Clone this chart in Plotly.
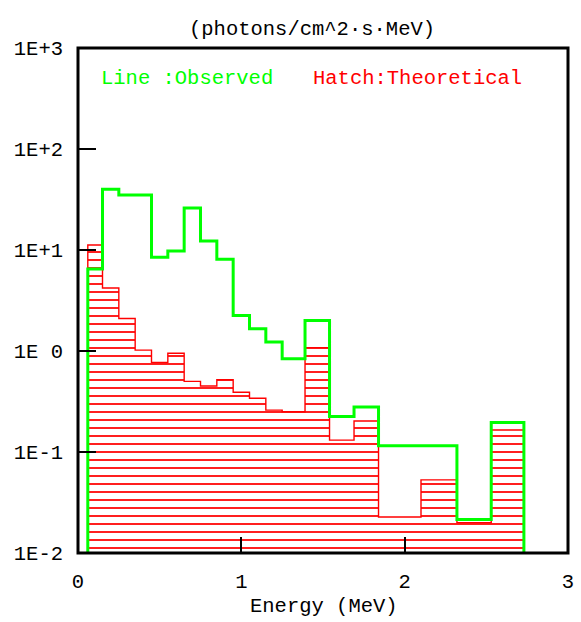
import plotly.graph_objects as go

# Bin edges (MeV) shared by both series
edges = [0.06, 0.15, 0.25, 0.35, 0.45, 0.55, 0.65, 0.75, 0.85, 0.95, 1.05,
         1.15, 1.25, 1.39, 1.54, 1.69, 1.84, 2.10, 2.32, 2.53, 2.73]
# Observed flux per bin (photons/cm^2 s MeV)
observed = [6.5, 40, 35, 35, 8.5, 9.8, 26, 12.3, 8.1, 2.24, 1.66, 1.23, 0.84,
            2.0, 0.224, 0.279, 0.115, 0.115, 0.0215, 0.196]
# Theoretical flux per bin
theoretical = [11.2, 4.2, 2.1, 1.02, 0.77, 0.95, 0.50, 0.45, 0.52, 0.39, 0.34,
               0.26, 0.25, 1.08, 0.131, 0.203, 0.0227, 0.053, 0.020, 0.165]

y_tickvals = [1e-2, 1e-1, 1, 10, 100, 1000]
y_ticktext = ["1E-2", "1E-1", "1E 0", "1E+1", "1E+2", "1E+3"]
x_tickvals = [0, 1, 2, 3]
x_ticktext = ["0", "1", "2", "3"]

FONT = "Liberation Mono"
GREEN = "#00ff00"
RED = "#ff0000"
FLOOR = 1e-3  # below axis range, clipped


def step_xy(e, v):
    xs = [e[0]] + list(e)
    ys = [FLOOR] + list(v) + [v[-1]]
    xs.append(e[-1])
    ys.append(FLOOR)
    return xs, ys


fig = go.Figure()

widths = [edges[i + 1] - edges[i] for i in range(len(theoretical))]
fig.add_trace(go.Bar(
    x=edges[:-1], y=[t - FLOOR for t in theoretical], base=FLOOR,
    width=widths, offset=0,
    marker=dict(color=RED, line=dict(width=0),
                pattern=dict(shape="-", size=8, solidity=0.22,
                             fgcolor=RED, fillmode="replace")),
    showlegend=False, hoverinfo="skip",
))

rx, ry = step_xy(edges, theoretical)
fig.add_trace(go.Scatter(x=rx, y=ry, mode="lines", line=dict(color=RED, width=1.4, shape="hv"),
                         showlegend=False, hoverinfo="skip"))

gx, gy = step_xy(edges, observed)
fig.add_trace(go.Scatter(x=gx, y=gy, mode="lines", line=dict(color=GREEN, width=3, shape="hv"),
                         showlegend=False, hoverinfo="skip"))

# invisible overlay axis for inner tick marks at x = 1, 2
fig.add_trace(go.Scatter(x=[0], y=[1], xaxis="x2", mode="markers",
                         marker=dict(opacity=0), showlegend=False, hoverinfo="skip"))

W, H = 581, 622
L, R, T, B = 78, 7, 48, 69

fig.update_layout(
    width=W, height=H,
    margin=dict(l=L, r=R, t=T, b=B, pad=0),
    paper_bgcolor="white", plot_bgcolor="white",
    bargap=0,
    font=dict(family=FONT, size=20.5, color="black"),
    xaxis=dict(range=[0, 3], tickvals=x_tickvals, ticktext=x_ticktext,
               ticks="", showgrid=False, zeroline=False, showline=False,
               ticklabelstandoff=13, tickfont=dict(family=FONT, size=20.5)),
    xaxis2=dict(range=[0, 3], overlaying="x", side="bottom", anchor="y",
                tickvals=[1, 2], ticks="inside", ticklen=16, tickwidth=1.5,
                tickcolor="black", showticklabels=False, showgrid=False,
                zeroline=False, showline=False),
    yaxis=dict(type="log", range=[-2, 3], tickvals=y_tickvals, ticktext=y_ticktext,
               ticks="inside", ticklen=18, tickwidth=1.5, tickcolor="black",
               showgrid=False, zeroline=False, showline=False,
               ticklabelstandoff=14, tickfont=dict(family=FONT, size=20.5)),
    shapes=[dict(type="rect", xref="paper", yref="paper", x0=0, x1=1, y0=0, y1=1,
                 line=dict(color="black", width=3), layer="above")],
)

pw, ph = W - L - R, H - T - B


def px(xp):
    return (xp - L) / pw


def py(yp):
    return (H - B - yp) / ph


fig.add_annotation(text="(photons/cm^2·s·MeV)", xref="paper", yref="paper",
                   x=px(315), y=py(30), showarrow=False, xanchor="center", yanchor="middle",
                   font=dict(family=FONT, size=20.5, color="black"))
fig.add_annotation(text="Line :Observed", xref="paper", yref="paper",
                   x=px(99), y=py(78), showarrow=False, xanchor="left", yanchor="middle",
                   font=dict(family=FONT, size=20.5, color=GREEN))
fig.add_annotation(text="Hatch:Theoretical", xref="paper", yref="paper",
                   x=px(314), y=py(78), showarrow=False, xanchor="left", yanchor="middle",
                   font=dict(family=FONT, size=20.5, color=RED))
fig.add_annotation(text="Energy (MeV)", xref="paper", yref="paper",
                   x=px(327), y=py(606), showarrow=False, xanchor="center", yanchor="middle",
                   font=dict(family=FONT, size=20.5, color="black"))

fig.write_html("out.html")
